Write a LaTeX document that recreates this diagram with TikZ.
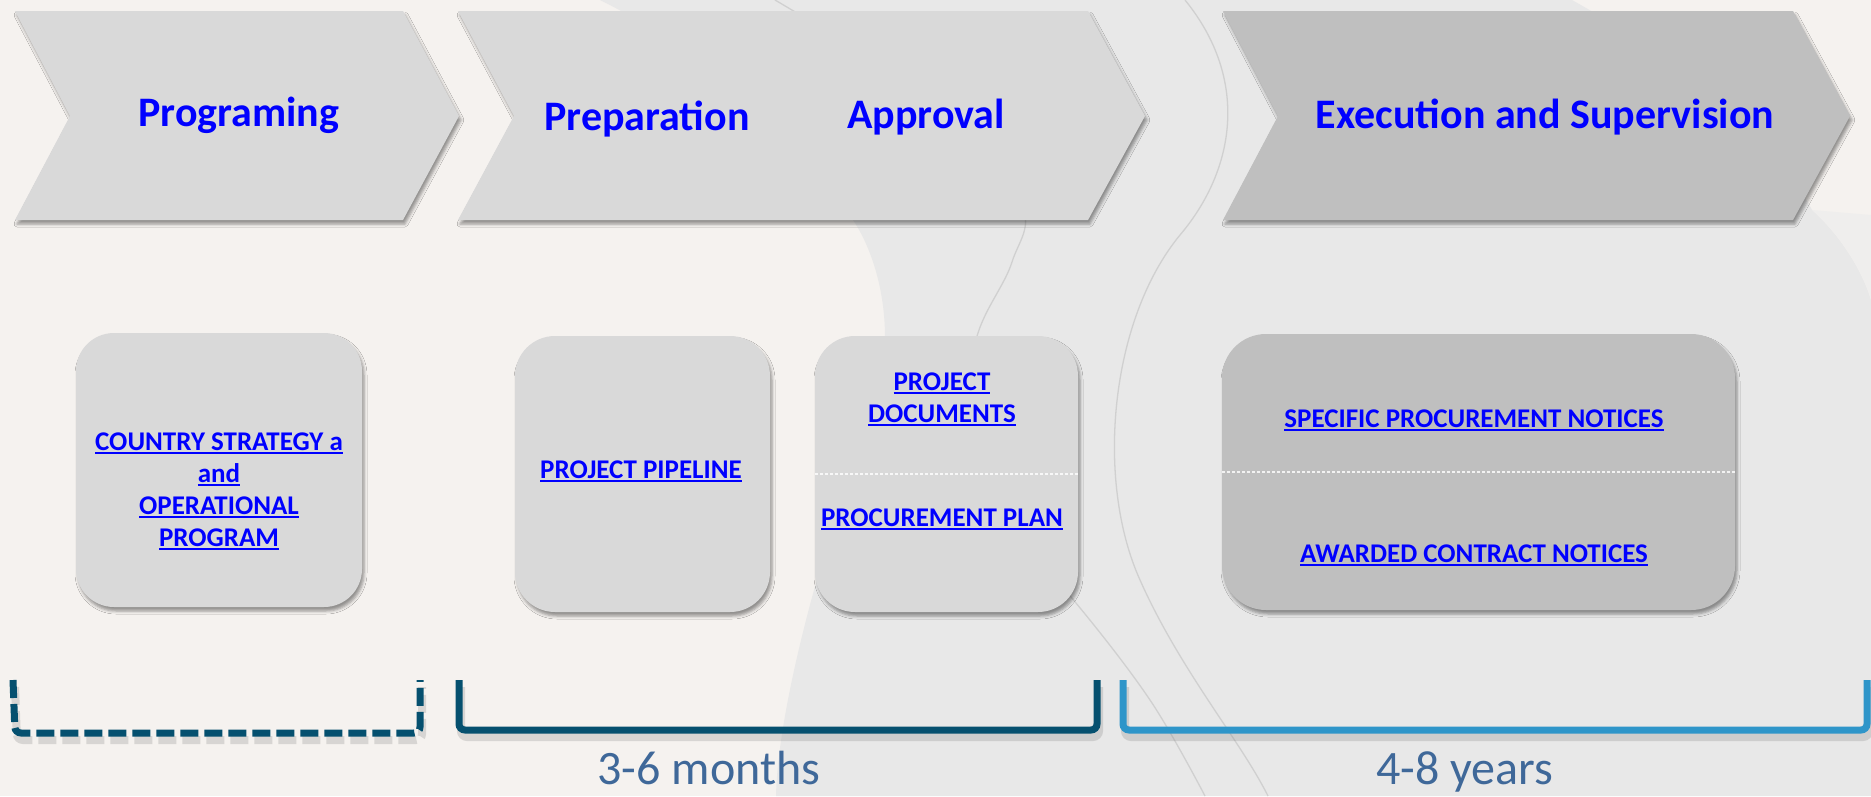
\documentclass[tikz,border=0pt]{standalone}
\usepackage{fontspec}
\setmainfont{Carlito}
\usetikzlibrary{shadows.blur}
\newcommand\lnk[1]{\leavevmode\setbox0\hbox{#1}\rlap{\rule[-3.5pt]{\wd0}{2pt}}\box0}
\definecolor{bgwarm}{HTML}{F5F2EF}
\definecolor{bggray}{HTML}{E8E8E8}
\definecolor{bglight}{HTML}{EFEEED}
\definecolor{decoline}{HTML}{D0D0D0}
\definecolor{chevlight}{HTML}{D9D9D9}
\definecolor{chevdark}{HTML}{BFBFBF}
\definecolor{linkblue}{HTML}{0000FF}
\definecolor{darkteal}{HTML}{05506F}
\definecolor{skyblue}{HTML}{2E95C9}
\definecolor{slate}{HTML}{3F6899}
\tikzset{
  softshadow/.style={blur shadow={shadow xshift=2pt, shadow yshift=-4pt, shadow blur radius=3pt, shadow opacity=40}},
  chevshape/.style={fill=chevlight, softshadow},
  phase/.style={text=linkblue, font=\fontsize{42}{50}\selectfont\bfseries, anchor=base, inner sep=0pt},
  card/.style={rectangle, rounded corners=40pt, fill=chevlight, draw=none, inner sep=0pt, softshadow},
  linktext/.style={text=linkblue, font=\fontsize{27}{32}\selectfont\bfseries, align=center, inner sep=0pt},
  divider/.style={draw=white, line width=1.5pt, dash pattern=on 3pt off 2pt, opacity=0.8},
  bracketline/.style={line width=7pt, rounded corners=6pt},
  bracketshade/.style={line width=8pt, rounded corners=6pt, draw=black!50, opacity=0.25, xshift=2pt, yshift=-7pt},
  dur/.style={text=slate, font=\fontsize{48}{56}\selectfont, anchor=base, inner sep=0pt},
  deco/.style={draw=decoline, line width=1.3pt},
}
\begin{document}
\begin{tikzpicture}[x=1pt, y=-1pt]
\useasboundingbox (0,0) rectangle (1871,796);
% background
\fill[bgwarm] (0,0) rectangle (1871,796);
\fill[bggray] (600,0) -- (1572,0) .. controls (1680,60) and (1780,150) .. (1812,210)
  .. controls (1840,235) and (1862,270) .. (1871,300) -- (1871,796) -- (776,796)
  .. controls (778,700) and (830,520) .. (870,420) .. controls (900,340) and (880,260) .. (853,220)
  .. controls (800,140) and (720,60) .. (600,0) -- cycle;
\fill[bglight] (1812,210) .. controls (1840,235) and (1862,270) .. (1871,300) -- (1871,215) -- cycle;
\draw[deco] plot[smooth, tension=0.6] coordinates {(775,0) (930,100) (1020,200) (1012,262) (978,333) (962,420) (1000,520) (1071,597) (1150,700) (1205,796)};
\draw[deco] (1185,0) .. controls (1250,80) and (1235,170) .. (1180,235)
  .. controls (1110,320) and (1095,480) .. (1140,580)
  .. controls (1180,670) and (1240,740) .. (1268,796);

% chevrons
\path[chevshape] (15,11) -- (403,11) -- (459,116) -- (403,220) -- (15,220) -- (70,116) -- cycle;
\path[chevshape] (458,11) -- (1088,11) -- (1145,116) -- (1088,220) -- (458,220) -- (514,116) -- cycle;
\path[chevshape, fill=chevdark] (1223,11) -- (1793,11) -- (1850,116) -- (1793,220) -- (1223,220) -- (1278,116) -- cycle;

\node[phase] (prog) at (239,126) {Programing};
\node[phase] (prep) at (647,130) {Preparation};
\node[phase] (appr) at (926,128) {Approval};
\node[phase] (exec) at (1545,128) {Execution and Supervision};

% cards
\node[card, rounded corners=38pt, minimum width=286pt, minimum height=274pt] (c1) at (219,470) {};
\node[card, minimum width=255pt, minimum height=276pt] (c2) at (642.5,474) {};
\node[card, minimum width=263pt, minimum height=276pt] (c3) at (946.5,474) {};
\node[card, fill=chevdark, rounded corners=44pt, minimum width=513pt, minimum height=276pt] (c4) at (1478.5,472) {};

\draw[divider] (c3.west) -- (c3.east);
\draw[divider] (c4.west) -- (c4.east);

\node[linktext] (t1) at (219,491) {\lnk{COUNTRY STRATEGY a}\\\lnk{and}\\\lnk{OPERATIONAL}\\\lnk{PROGRAM}};
\node[linktext] (t2) at (641,471) {\lnk{PROJECT PIPELINE}};
\node[linktext] (t3a) at (942,399) {\lnk{PROJECT}\\\lnk{DOCUMENTS}};
\node[linktext] (t3b) at (942,519) {\lnk{PROCUREMENT PLAN}};
\node[linktext] (t4a) at (1474,420) {\lnk{SPECIFIC PROCUREMENT NOTICES}};
\node[linktext] (t4b) at (1474,555) {\lnk{AWARDED CONTRACT NOTICES}};

% brackets
\draw[bracketshade, dash pattern=on 18pt off 6pt] (13,680) -- (15,733) -- (420,733) -- (420,680);
\draw[bracketshade] (459,680) -- (459,730) -- (1097,730) -- (1097,680);
\draw[bracketshade] (1123,680) -- (1123,730) -- (1867,730) -- (1867,680);
\draw[bracketline, darkteal, dash pattern=on 18pt off 6pt] (13,680) -- (15,733) -- (420,733) -- (420,680);
\draw[bracketline, darkteal] (459,680) -- (459,730) -- (1097,730) -- (1097,680);
\draw[bracketline, skyblue] (1123,680) -- (1123,730) -- (1867,730) -- (1867,680);

\node[dur] (months) at (709,784) {3-6 months};
\node[dur] (years) at (1465,784) {4-8 years};
\end{tikzpicture}
\end{document}
